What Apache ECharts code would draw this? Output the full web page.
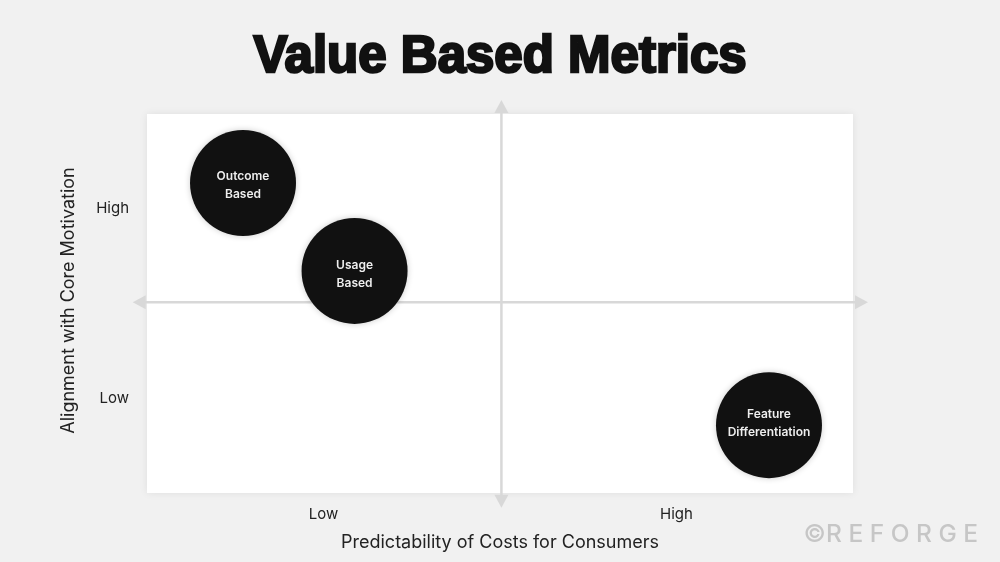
<!DOCTYPE html>
<html lang="en">
<head>
    <meta charset="UTF-8">
    <script src="https://cdn.jsdelivr.net/npm/echarts@6/dist/echarts.min.js"></script>
    <style>
        html, body { margin: 0; height: 100%; background: #f1f1f1; }
        #main { width: 1000px; height: 562px; }
    </style>
    <title>Value Based Metrics</title>
</head>
<body>
<div id="main"></div>
<script type="text/javascript">
    const titleText = 'Value Based Metrics';
    const xName = 'Predictability of Costs for Consumers';
    const yName = 'Alignment with Core Motivation';
    const metricNames = ['Outcome\nBased', 'Usage\nBased', 'Feature\nDifferentiation'];
    const xValues = [13.6, 29.4, 88.1];
    const yValues = [81.8, 58.6, 17.9];
    const labelShifts = [2, 3, -2];
    const tickValues = [25, 75];
    const tickLabels = ['Low', 'High'];

    const myChart = echarts.init(document.getElementById('main'));
    const textColor = '#222';
    const lineColor = '#d8d8d8';
    const labelFont = 'Inter';

    function tickText(val) {
        return tickLabels[tickValues.indexOf(val)];
    }

    // the two arrows stick out of the white panel, so they are line series with clip off
    function arrowLine(from, to, rotateFrom, rotateTo) {
        return {
            type: 'line',
            z: 1,
            silent: true,
            clip: false,
            symbolSize: [14, 13],
            lineStyle: {color: lineColor, width: 2.5},
            itemStyle: {color: lineColor},
            data: [
                {value: from, symbol: 'triangle', symbolRotate: rotateFrom},
                {value: to, symbol: 'triangle', symbolRotate: rotateTo}
            ]
        };
    }

    const option = {
        backgroundColor: '#f1f1f1',
        animation: false,
        title: {
            text: titleText,
            left: 'center',
            top: 27,
            textStyle: {
                fontFamily: 'Liberation Sans', fontWeight: 'bold', fontSize: 51, color: '#111',
                textBorderColor: '#111', textBorderWidth: 2.5
            }
        },
        grid: {
            left: 147, right: 147, top: 114, bottom: 69,
            show: true,
            backgroundColor: '#fff',
            borderWidth: 0,
            shadowColor: 'rgba(0,0,0,0.08)',
            shadowBlur: 8
        },
        xAxis: {
            type: 'value', min: 0, max: 100,
            name: xName, nameLocation: 'middle', nameGap: 41,
            nameTextStyle: {fontFamily: labelFont, fontSize: 18, color: textColor},
            axisLine: {show: false},
            axisTick: {show: false},
            splitLine: {show: false},
            axisLabel: {
                customValues: tickValues, formatter: tickText, margin: 14,
                fontFamily: labelFont, fontSize: 15, color: textColor
            }
        },
        yAxis: {
            type: 'value', min: 0, max: 100,
            name: yName, nameLocation: 'middle', nameGap: 69,
            nameTextStyle: {fontFamily: labelFont, fontSize: 18, color: textColor, padding: [0, 0, 0, 6]},
            axisLine: {show: false},
            axisTick: {show: false},
            splitLine: {show: false},
            axisLabel: {
                customValues: tickValues, formatter: tickText, margin: 18,
                fontFamily: labelFont, fontSize: 15, color: textColor
            }
        },
        series: [
            arrowLine([-1.1, 50.3], [101.2, 50.3], 90, -90),
            arrowLine([50.2, -2.2], [50.2, 102], 180, 0),
            {
                type: 'scatter',
                z: 3,
                symbolSize: 106,
                data: xValues.map(function (x, i) {
                    return {
                        name: metricNames[i],
                        value: [x, yValues[i]],
                        label: {offset: [0, labelShifts[i]]}
                    };
                }),
                itemStyle: {color: '#111', opacity: 1, shadowColor: 'rgba(0,0,0,0.2)', shadowBlur: 6},
                label: {
                    show: true,
                    position: 'inside',
                    formatter: '{b}',
                    fontFamily: labelFont,
                    fontWeight: 600,
                    fontSize: 12,
                    lineHeight: 18,
                    color: '#eee'
                }
            }
        ],
        graphic: [
            {
                type: 'text',
                right: 22,
                top: 522,
                style: {
                    text: '©R E F O R G E',
                    fontFamily: 'Inter', fontWeight: 500, fontSize: 24.5, fill: '#c6c6c6'
                }
            }
        ]
    };
    myChart.setOption(option);
</script>
</body>
</html>
